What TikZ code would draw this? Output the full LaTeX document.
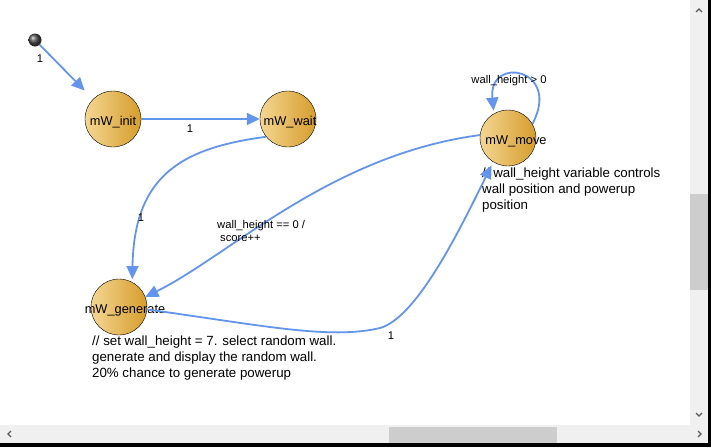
\documentclass[tikz,border=0pt]{standalone}
\usepackage{fontspec}
\setmainfont{Liberation Sans}
\usetikzlibrary{arrows.meta}
\definecolor{edgeblue}{RGB}{100,149,237}
\definecolor{stlight}{RGB}{244,214,146}
\definecolor{stdark}{RGB}{214,157,44}
\definecolor{barbg}{RGB}{240,240,240}
\definecolor{barthumb}{RGB}{205,205,205}
\tikzstyle{state}=[circle, draw, thin, minimum size=56pt, inner sep=0pt, left color=stlight, right color=stdark, font=\fontsize{12.8}{14}\selectfont]
\tikzstyle{edge}=[draw=edgeblue, line width=1.8pt, -{Triangle[length=13pt,width=12pt]}]
\tikzstyle{elabel}=[font=\fontsize{11.2}{13}\selectfont, inner sep=0pt]
\tikzstyle{comment}=[font=\fontsize{13.3}{16}\selectfont, align=left, anchor=north west, inner sep=0pt]
\tikzstyle{chevron}=[draw=black!65, line width=1.2pt]
\newcommand{\stnode}{\node[state]}
\newcommand{\stname}[2][0pt]{\makebox[0pt]{\hspace*{#1}\smash{\raisebox{-6pt}{#2}}}}

\begin{document}
\begin{tikzpicture}[x=1pt,y=-1pt]
\useasboundingbox (0,0) rectangle (711,447);
% scroll bars
\fill[barbg] (690,0) rectangle (708,425);
\fill[barbg] (0,425) rectangle (708,443);
\fill[barthumb] (690,194) rectangle (708,290);
\fill[barthumb] (389,427) rectangle (557,443);
\fill[black] (708,0) rectangle (711,447);
\fill[black] (0,443) rectangle (711,447);
\draw[chevron] (696,12) -- (699,9) -- (702,12);
\draw[chevron] (696,413) -- (699,416) -- (702,413);
\draw[chevron] (11,431) -- (8,434) -- (11,437);
\draw[chevron] (698,431) -- (701,434) -- (698,437);

\node[circle, minimum size=13pt, inner sep=0pt, ball color=black!70] (start) at (35,40){};
\stnode (init) at (113,119){\stname{mW\_init}};
\stnode (wait) at (288,119){\stname[4pt]{mW\_wait}};
\stnode (move) at (508,138){\stname[16pt]{mW\_move}};
\stnode (gen) at (119,307){\stname[12pt]{mW\_generate}};

\node[comment] (cmove) at (482,168){// wall\_height variable controls\\wall position and powerup\\position};
\node[comment] (cgen) at (92,336){// set wall\_height = 7. select random wall.\\generate and display the random wall.\\20\% chance to generate powerup};

\draw[edge, shorten >=12pt] (start) -- (init.135);
\draw[edge] (init) -- (wait);
\draw[edge, shorten >=3pt] (wait.219) .. controls (182,148) and (134,175) .. (gen.62);
\draw[edge] (move.174) .. controls (330,155) and (230,255) .. (gen.21);
\draw[edge, shorten >=4pt] (gen.-5) .. controls (260,325) and (330,340) .. (380,328) .. controls (415,318) and (455,240) .. (move.238);
\draw[edge, shorten >=3pt] (move.30) .. controls (562,68) and (488,55) .. (move.120);

\node[elabel] (l1) at (40,59){1};
\node[elabel] (l2) at (190,129){1};
\node[elabel] (l3) at (141,218){1};
\node[elabel, align=left, anchor=west] (l4) at (217,231){wall\_height == 0 /\\\hspace*{3pt}score++};
\node[elabel] (l5) at (391,336){1};
\node[elabel] (l6) at (509,81){wall\_height > 0};
\end{tikzpicture}
\end{document}
